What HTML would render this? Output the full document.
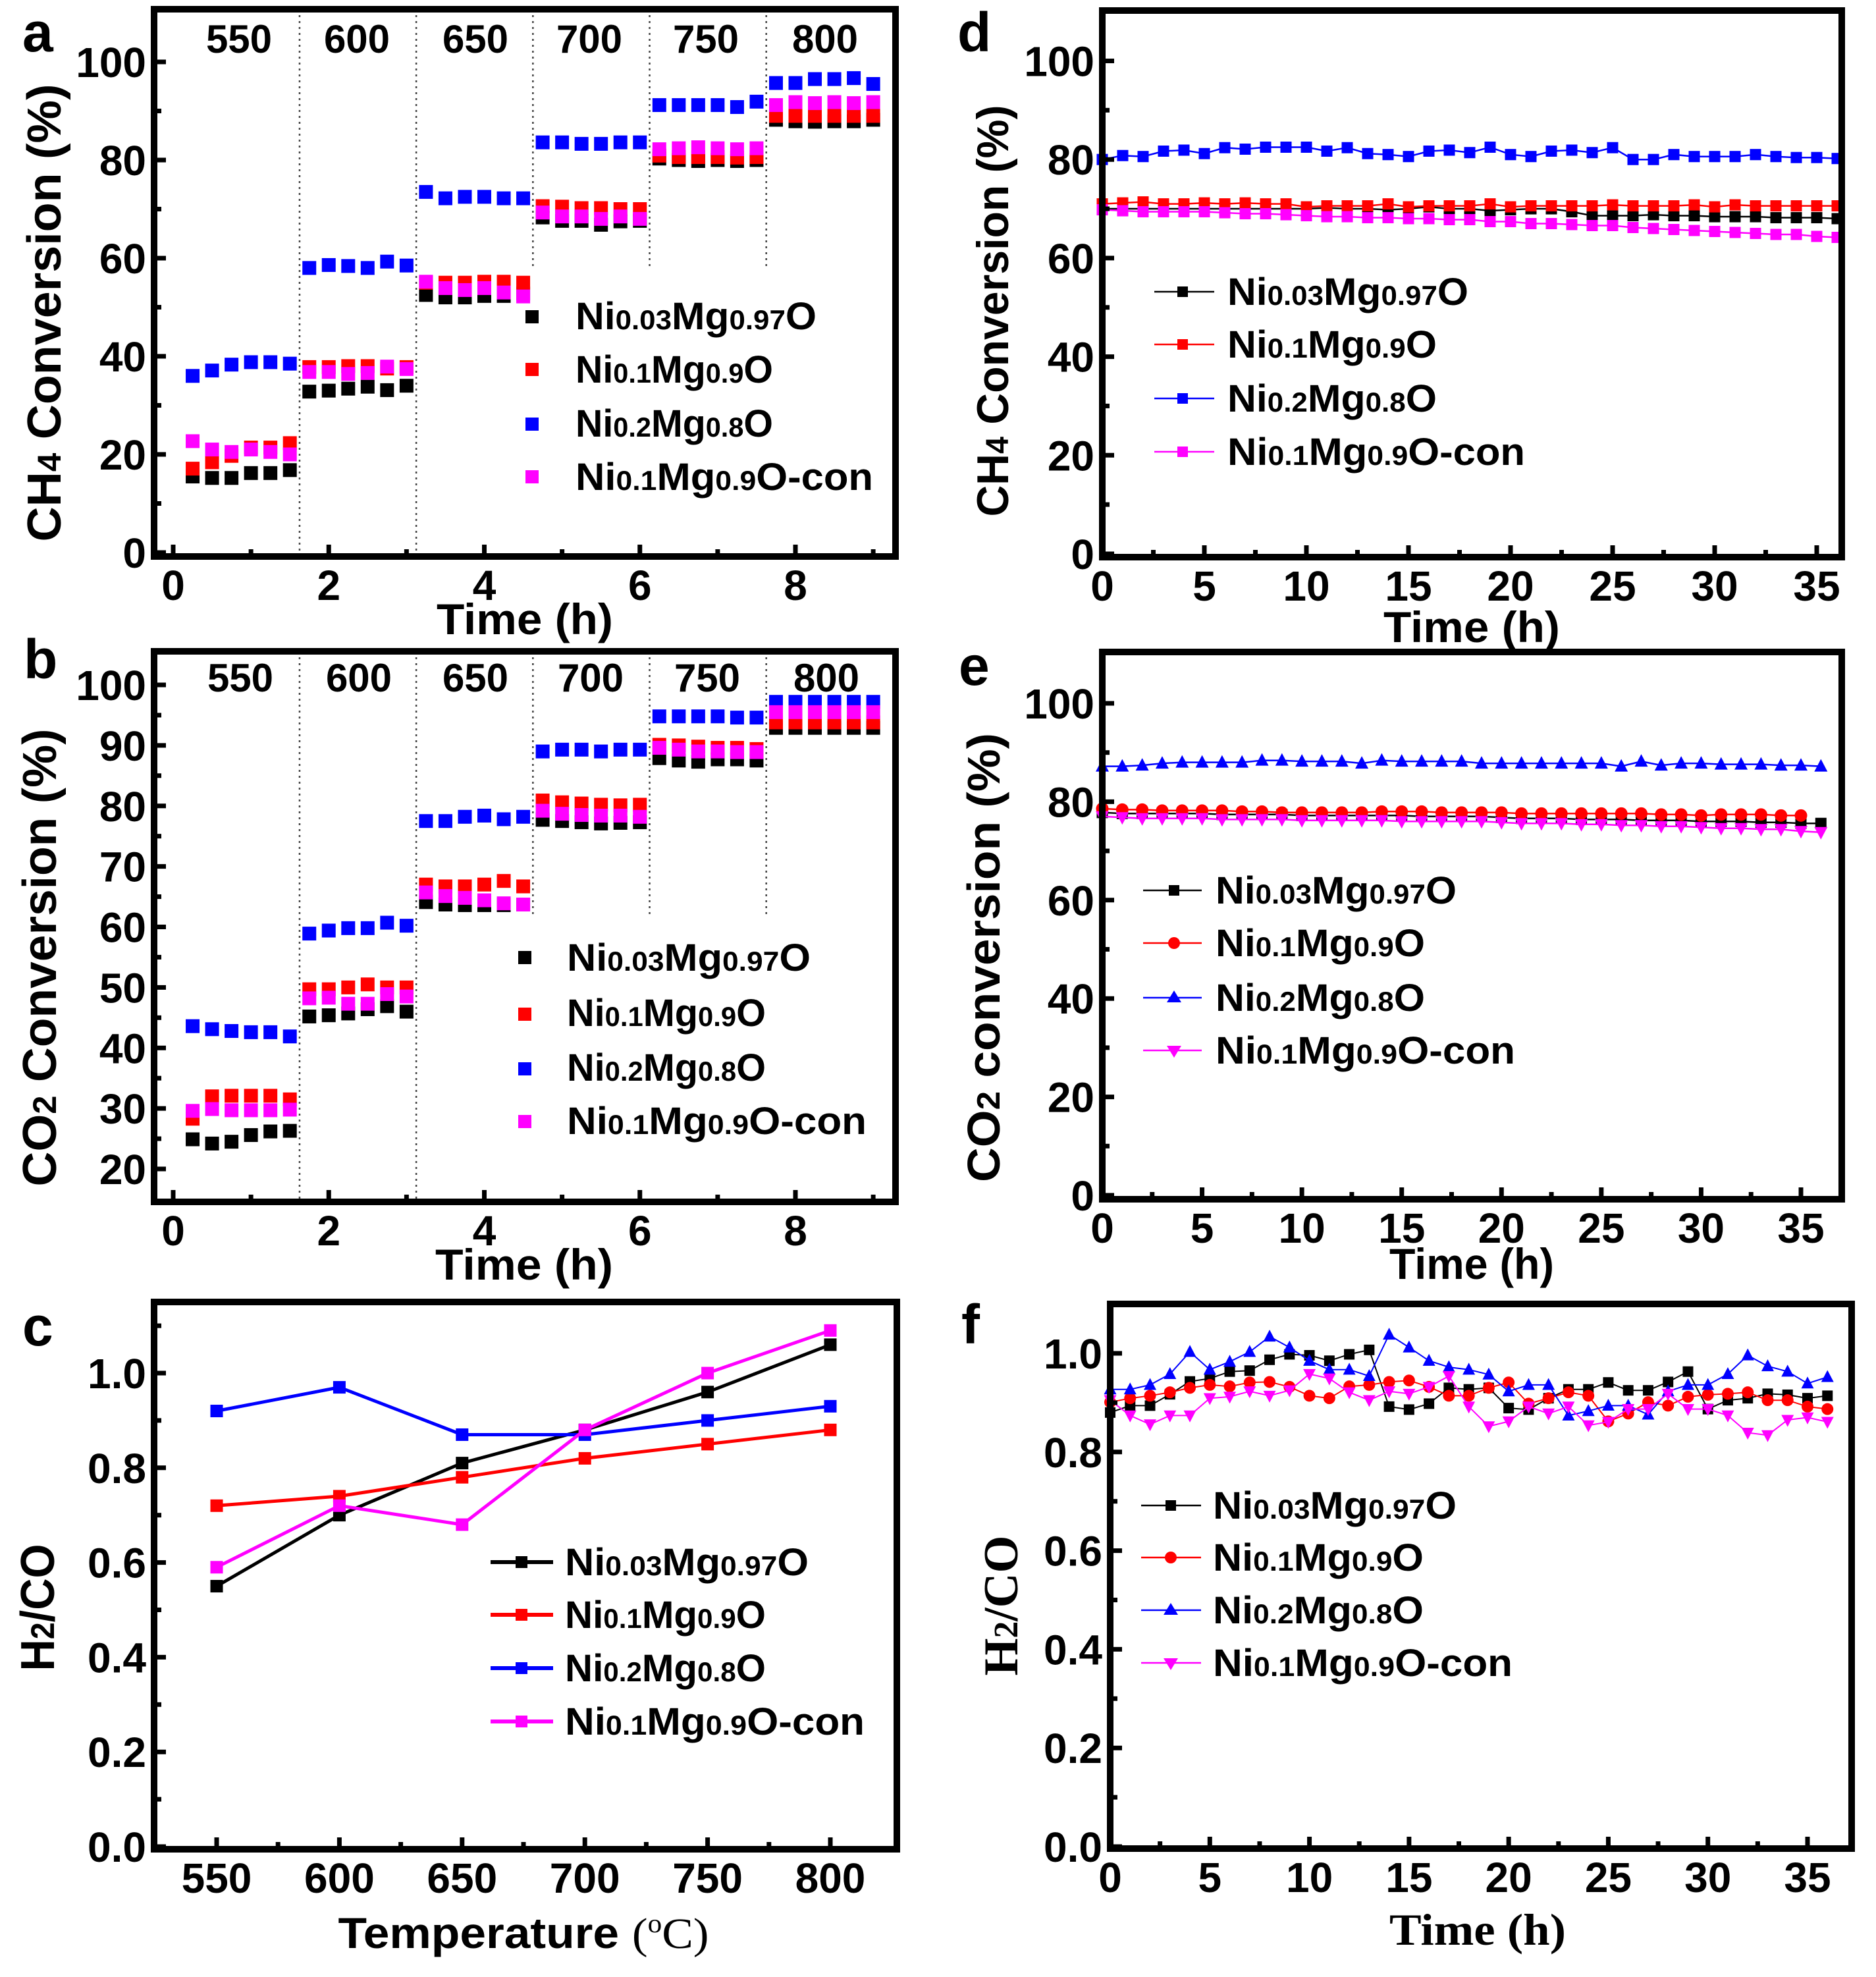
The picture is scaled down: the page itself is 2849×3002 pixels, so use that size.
<!DOCTYPE html>
<html><head><meta charset="utf-8">
<style>
html,body{margin:0;padding:0;background:#fff;}
svg{display:block;}
text{font-family:"Liberation Sans",sans-serif;font-weight:bold;fill:#000;}
.serif{font-family:"Liberation Serif",serif;}
</style></head>
<body>
<svg id="fig" width="2849" height="3002" viewBox="0 0 2849 3002" xmlns="http://www.w3.org/2000/svg">
<rect x="0" y="0" width="2849" height="3002" fill="#fff"/>
<!-- panel letters -->
<text x="34" y="78" font-size="84">a</text>
<text x="36" y="1030" font-size="84">b</text>
<text x="34" y="2043" font-size="84">c</text>
<text x="1454" y="78" font-size="84">d</text>
<text x="1456" y="1040" font-size="84">e</text>
<text x="1460" y="2040" font-size="84">f</text>

<!-- y axis titles -->
<text transform="translate(92,475) rotate(-90)" text-anchor="middle" font-size="72" textLength="695" lengthAdjust="spacingAndGlyphs">CH<tspan font-size="50">4</tspan> Conversion (%)</text>
<text transform="translate(85,1454) rotate(-90)" text-anchor="middle" font-size="72" textLength="695" lengthAdjust="spacingAndGlyphs">CO<tspan font-size="50">2</tspan> Conversion (%)</text>
<text transform="translate(82,2441) rotate(-90)" text-anchor="middle" font-size="72" textLength="193" lengthAdjust="spacingAndGlyphs">H<tspan font-size="50">2</tspan>/CO</text>
<text transform="translate(1531,472) rotate(-90)" text-anchor="middle" font-size="68" textLength="625" lengthAdjust="spacingAndGlyphs">CH<tspan font-size="48">4</tspan> Conversion (%)</text>
<text transform="translate(1518,1454) rotate(-90)" text-anchor="middle" font-size="70" textLength="682" lengthAdjust="spacingAndGlyphs">CO<tspan font-size="49">2</tspan> conversion (%)</text>
<text class="serif" transform="translate(1545,2438) rotate(-90)" text-anchor="middle" font-size="74" textLength="213" lengthAdjust="spacingAndGlyphs">H<tspan font-size="52">2</tspan>/CO</text>

<!-- x axis titles -->
<text x="797" y="963" text-anchor="middle" font-size="66" textLength="268" lengthAdjust="spacingAndGlyphs">Time (h)</text>
<text x="796" y="1943" text-anchor="middle" font-size="66" textLength="270" lengthAdjust="spacingAndGlyphs">Time (h)</text>
<text x="795" y="2958" text-anchor="middle" font-size="66" textLength="563" lengthAdjust="spacingAndGlyphs">Temperature <tspan class="serif" font-weight="normal">(<tspan font-size="40" dy="-24">o</tspan><tspan dy="24">C)</tspan></tspan></text>
<text x="2235" y="975" text-anchor="middle" font-size="66" textLength="268" lengthAdjust="spacingAndGlyphs">Time (h)</text>
<text x="2235" y="1942" text-anchor="middle" font-size="66" textLength="250" lengthAdjust="spacingAndGlyphs">Time (h)</text>
<text class="serif" x="2244" y="2953" text-anchor="middle" font-size="68" textLength="268" lengthAdjust="spacingAndGlyphs">Time (h)</text>

<!-- temperature labels -->
<g font-size="60" text-anchor="middle">
<text x="363" y="80">550</text><text x="542" y="80">600</text><text x="722" y="80">650</text><text x="895" y="80">700</text><text x="1072" y="80">750</text><text x="1253" y="80">800</text>
</g>
<g font-size="60" text-anchor="middle">
<text x="365" y="1050">550</text><text x="545" y="1050">600</text><text x="722" y="1050">650</text><text x="897" y="1050">700</text><text x="1074" y="1050">750</text><text x="1255" y="1050">800</text>
</g>

<!-- legends -->
<g font-size="58">
<rect x="798" y="471" width="20" height="20" fill="#000"/>
<rect x="798" y="551" width="20" height="20" fill="#f00"/>
<rect x="798" y="634" width="20" height="20" fill="#00f"/>
<rect x="798" y="714" width="20" height="20" fill="#f0f"/>
<text x="874" y="500" textLength="366" lengthAdjust="spacingAndGlyphs">Ni<tspan font-size="42">0.03</tspan>Mg<tspan font-size="42">0.97</tspan>O</text>
<text x="874" y="581" textLength="300" lengthAdjust="spacingAndGlyphs">Ni<tspan font-size="42">0.1</tspan>Mg<tspan font-size="42">0.9</tspan>O</text>
<text x="874" y="663" textLength="300" lengthAdjust="spacingAndGlyphs">Ni<tspan font-size="42">0.2</tspan>Mg<tspan font-size="42">0.8</tspan>O</text>
<text x="874" y="744" textLength="452" lengthAdjust="spacingAndGlyphs">Ni<tspan font-size="42">0.1</tspan>Mg<tspan font-size="42">0.9</tspan>O-con</text>
</g>
<g font-size="58">
<rect x="787" y="1444" width="20" height="20" fill="#000"/>
<rect x="787" y="1530" width="20" height="20" fill="#f00"/>
<rect x="787" y="1613" width="20" height="20" fill="#00f"/>
<rect x="787" y="1693" width="20" height="20" fill="#f0f"/>
<text x="861" y="1474" textLength="370" lengthAdjust="spacingAndGlyphs">Ni<tspan font-size="42">0.03</tspan>Mg<tspan font-size="42">0.97</tspan>O</text>
<text x="861" y="1558" textLength="302" lengthAdjust="spacingAndGlyphs">Ni<tspan font-size="42">0.1</tspan>Mg<tspan font-size="42">0.9</tspan>O</text>
<text x="861" y="1641" textLength="302" lengthAdjust="spacingAndGlyphs">Ni<tspan font-size="42">0.2</tspan>Mg<tspan font-size="42">0.8</tspan>O</text>
<text x="861" y="1722" textLength="455" lengthAdjust="spacingAndGlyphs">Ni<tspan font-size="42">0.1</tspan>Mg<tspan font-size="42">0.9</tspan>O-con</text>
</g>
<g font-size="58">
<line x1="745" y1="2372" x2="840" y2="2372" stroke="#000" stroke-width="6"/><rect x="783" y="2363" width="18" height="18" fill="#000"/>
<line x1="745" y1="2452" x2="840" y2="2452" stroke="#f00" stroke-width="6"/><rect x="783" y="2443" width="18" height="18" fill="#f00"/>
<line x1="745" y1="2533" x2="840" y2="2533" stroke="#00f" stroke-width="6"/><rect x="783" y="2524" width="18" height="18" fill="#00f"/>
<line x1="745" y1="2614" x2="840" y2="2614" stroke="#f0f" stroke-width="6"/><rect x="783" y="2605" width="18" height="18" fill="#f0f"/>
<text x="858" y="2392" textLength="370" lengthAdjust="spacingAndGlyphs">Ni<tspan font-size="42">0.03</tspan>Mg<tspan font-size="42">0.97</tspan>O</text>
<text x="858" y="2472" textLength="305" lengthAdjust="spacingAndGlyphs">Ni<tspan font-size="42">0.1</tspan>Mg<tspan font-size="42">0.9</tspan>O</text>
<text x="858" y="2553" textLength="305" lengthAdjust="spacingAndGlyphs">Ni<tspan font-size="42">0.2</tspan>Mg<tspan font-size="42">0.8</tspan>O</text>
<text x="858" y="2634" textLength="455" lengthAdjust="spacingAndGlyphs">Ni<tspan font-size="42">0.1</tspan>Mg<tspan font-size="42">0.9</tspan>O-con</text>
</g>
<g font-size="58">
<line x1="1753" y1="443" x2="1844" y2="443" stroke="#000" stroke-width="2.5"/><rect x="1788" y="435" width="16" height="16" fill="#000"/>
<line x1="1753" y1="523" x2="1844" y2="523" stroke="#f00" stroke-width="2.5"/><rect x="1788" y="515" width="16" height="16" fill="#f00"/>
<line x1="1753" y1="605" x2="1844" y2="605" stroke="#00f" stroke-width="2.5"/><rect x="1788" y="597" width="16" height="16" fill="#00f"/>
<line x1="1753" y1="686" x2="1844" y2="686" stroke="#f0f" stroke-width="2.5"/><rect x="1788" y="678" width="16" height="16" fill="#f0f"/>
<text x="1864" y="463" textLength="366" lengthAdjust="spacingAndGlyphs">Ni<tspan font-size="42">0.03</tspan>Mg<tspan font-size="42">0.97</tspan>O</text>
<text x="1864" y="543" textLength="318" lengthAdjust="spacingAndGlyphs">Ni<tspan font-size="42">0.1</tspan>Mg<tspan font-size="42">0.9</tspan>O</text>
<text x="1864" y="625" textLength="318" lengthAdjust="spacingAndGlyphs">Ni<tspan font-size="42">0.2</tspan>Mg<tspan font-size="42">0.8</tspan>O</text>
<text x="1864" y="706" textLength="452" lengthAdjust="spacingAndGlyphs">Ni<tspan font-size="42">0.1</tspan>Mg<tspan font-size="42">0.9</tspan>O-con</text>
</g>
<g font-size="58">
<line x1="1736" y1="1352" x2="1825" y2="1352" stroke="#000" stroke-width="2.5"/><rect x="1775" y="1344" width="16" height="16" fill="#000"/>
<line x1="1736" y1="1432" x2="1825" y2="1432" stroke="#f00" stroke-width="2.5"/><circle cx="1783" cy="1432" r="9" fill="#f00"/>
<line x1="1736" y1="1515" x2="1825" y2="1515" stroke="#00f" stroke-width="2.5"/><path d="M1783 1504 L1794 1522 L1772 1522 Z" fill="#00f"/>
<line x1="1736" y1="1595" x2="1825" y2="1595" stroke="#f0f" stroke-width="2.5"/><path d="M1783 1606 L1794 1588 L1772 1588 Z" fill="#f0f"/>
<text x="1846" y="1372" textLength="366" lengthAdjust="spacingAndGlyphs">Ni<tspan font-size="42">0.03</tspan>Mg<tspan font-size="42">0.97</tspan>O</text>
<text x="1846" y="1452" textLength="318" lengthAdjust="spacingAndGlyphs">Ni<tspan font-size="42">0.1</tspan>Mg<tspan font-size="42">0.9</tspan>O</text>
<text x="1846" y="1535" textLength="318" lengthAdjust="spacingAndGlyphs">Ni<tspan font-size="42">0.2</tspan>Mg<tspan font-size="42">0.8</tspan>O</text>
<text x="1846" y="1615" textLength="455" lengthAdjust="spacingAndGlyphs">Ni<tspan font-size="42">0.1</tspan>Mg<tspan font-size="42">0.9</tspan>O-con</text>
</g>
<g font-size="58">
<line x1="1733" y1="2286" x2="1824" y2="2286" stroke="#000" stroke-width="2.5"/><rect x="1770" y="2278" width="16" height="16" fill="#000"/>
<line x1="1733" y1="2365" x2="1824" y2="2365" stroke="#f00" stroke-width="2.5"/><circle cx="1778" cy="2365" r="9" fill="#f00"/>
<line x1="1733" y1="2445" x2="1824" y2="2445" stroke="#00f" stroke-width="2.5"/><path d="M1778 2434 L1789 2452 L1767 2452 Z" fill="#00f"/>
<line x1="1733" y1="2525" x2="1824" y2="2525" stroke="#f0f" stroke-width="2.5"/><path d="M1778 2536 L1789 2518 L1767 2518 Z" fill="#f0f"/>
<text x="1842" y="2306" textLength="370" lengthAdjust="spacingAndGlyphs">Ni<tspan font-size="42">0.03</tspan>Mg<tspan font-size="42">0.97</tspan>O</text>
<text x="1842" y="2385" textLength="320" lengthAdjust="spacingAndGlyphs">Ni<tspan font-size="42">0.1</tspan>Mg<tspan font-size="42">0.9</tspan>O</text>
<text x="1842" y="2465" textLength="320" lengthAdjust="spacingAndGlyphs">Ni<tspan font-size="42">0.2</tspan>Mg<tspan font-size="42">0.8</tspan>O</text>
<text x="1842" y="2545" textLength="455" lengthAdjust="spacingAndGlyphs">Ni<tspan font-size="42">0.1</tspan>Mg<tspan font-size="42">0.9</tspan>O-con</text>
</g>
</svg>
<script>
// ---- data ----
const timesAB = [0.25,0.5,0.75,1,1.25,1.5,1.75,2,2.25,2.5,2.75,3,3.25,3.5,3.75,4,4.25,4.5,4.75,5,5.25,5.5,5.75,6,6.25,6.5,6.75,7,7.25,7.5,7.75,8,8.25,8.5,8.75,9];
const segBounds = [1.625,3.125,4.625,6.125,7.625];
const aBlack = [15.5,15.2,15.2,16.2,16.2,16.8, 32.8,33,33.4,33.8,33.1,34, 52.5,52,52,52.3,52.3,52.8, 68.3,67.6,67.6,66.8,67.5,67.6, 80.3,80,79.8,80,79.8,80, 88.2,87.9,87.8,87.9,87.9,88.2];
const aRed = [17.1,18.4,19.7,21.4,21.4,22.3, 37.8,37.8,38,38,37.5,37.8, 55,55,55,55.2,55.2,55, 70.6,70.5,70.2,70.2,70,70, 80.9,80.6,80.6,80.6,80.5,80.6, 89,89,89,89,89,89];
const aBlue = [36,37.1,38.3,38.8,38.8,38.5, 58,58.6,58.4,58,59.3,58.5, 73.5,72.2,72.5,72.5,72.2,72.2, 83.6,83.6,83.3,83.3,83.6,83.6, 91.2,91.2,91.2,91.2,90.8,91.9, 95.7,95.7,96.5,96.5,96.7,95.5];
const aMag = [22.7,21,20.5,21,20.5,20, 36.8,36.8,36.4,36.6,37.9,37.4, 55.2,53.9,53.5,53.9,53,52.2, 69.3,68.5,68.5,68,68.5,68, 82.2,82.4,82.6,82.4,82.2,82.4, 91.2,91.8,91.6,91.8,91.6,91.8];
const bBlack = [24.9,24.2,24.5,25.6,26.2,26.3, 45.2,45.4,45.7,46.4,46.9,46, 64.1,63.7,63.6,63.6,63.6,63.7, 77.7,77.5,77.3,77.1,77.2,77.3, 87.9,87.5,87.3,87.7,87.7,87.5, 92.9,92.9,92.9,92.9,92.9,92.9];
const bRed = [28.3,32,32.1,32.1,32.1,31.5, 49.7,49.7,50,50.5,50,50, 67,66.7,66.7,67,67.6,66.7, 80.9,80.6,80.4,80.2,80.1,80.2, 90.1,90,89.8,89.6,89.6,89.4, 93.8,93.8,93.8,93.8,93.8,93.8];
const bBlue = [43.6,43.1,42.8,42.6,42.6,41.9, 58.9,59.4,59.8,59.8,60.7,60.2, 77.5,77.5,78.2,78.4,77.8,78.2, 89,89.3,89.3,89,89.3,89.3, 94.8,94.8,94.8,94.8,94.6,94.6, 97.2,97.2,97.2,97.2,97.2,97.2];
const bMag = [29.6,29.9,29.7,29.7,29.7,29.8, 48.2,48.3,47.3,47.3,48.9,48.5, 65.7,65.1,64.8,64.4,63.9,63.7, 79.2,78.7,78.5,78.4,78.4,78.2, 89.6,89.3,89,89,88.9,88.9, 95.5,95.5,95.5,95.5,95.5,95.5];
const temps = [550,600,650,700,750,800];
const cBlack = [0.55,0.70,0.81,0.88,0.96,1.06];
const cRed = [0.72,0.74,0.78,0.82,0.85,0.88];
const cBlue = [0.92,0.97,0.87,0.87,0.90,0.93];
const cMag = [0.59,0.72,0.68,0.88,1.00,1.09];
const timesD = [0,1,2,3,4,5,6,7,8,9,10,11,12,13,14,15,16,17,18,19,20,21,22,23,24,25,26,27,28,29,30,31,32,33,34,35,36];
const dBlack = [70,70,70,70,70,70,70,70,70,70,70,70.2,70,70,69.8,70,70.4,70,70,69.6,69.8,70,70,69.4,68.6,68.6,68.6,68.8,68.6,68.6,68.4,68.4,68.4,68.2,68.2,68.2,68];
const dRed = [71,71.2,71.4,71,71,71.2,71,71.2,71,71,70.4,70.6,70.6,70.6,71,70.4,70.6,70.6,70.6,71,70.4,70.6,70.6,70.6,70.6,70.8,70.6,70.6,70.6,70.8,70.4,70.8,70.6,70.6,70.6,70.6,70.6];
const dBlue = [80,80.8,80.6,81.7,81.9,81.2,82.4,82.1,82.5,82.5,82.5,81.7,82.4,81.2,81,80.6,81.7,81.9,81.4,82.5,81,80.6,81.7,81.9,81.4,82.4,80,80,81,80.6,80.6,80.6,81,80.6,80.4,80.4,80.2];
const dMag = [69.8,69.6,69.4,69.4,69.4,69.4,69.2,69,69,68.8,68.6,68.4,68.4,68.2,68.2,68,68,67.8,67.8,67.4,67.4,67,67,66.8,66.6,66.6,66.2,66,65.8,65.6,65.4,65.2,65,64.8,64.8,64.4,64.2];
const eBlack = [77.8,77.6,77.6,77.6,77.6,77.6,77.4,77.4,77.4,77.4,77.2,77.2,77.2,77.2,77.2,77.2,77,77,77,77,76.8,76.6,76.6,76.6,76.4,76.4,76.4,76.2,76.2,76.2,76,76,76,75.8,75.8,75.6,75.6];
const eRed = [78.6,78.4,78.4,78.2,78.2,78.2,78.2,78,78,77.8,77.8,77.8,77.8,77.8,78,78,78,77.8,77.8,77.8,77.8,77.6,77.6,77.6,77.6,77.6,77.6,77.6,77.4,77.4,77.2,77.4,77.4,77.4,77.2,77.2];
const eBlue = [87.2,87.2,87.4,87.8,88,88,88,88,88.4,88.4,88.2,88.2,88.2,87.8,88.4,88.2,88.2,88.2,88.2,87.8,87.8,87.8,87.8,87.8,87.8,87.8,87.2,88.2,87.4,87.8,87.8,87.6,87.6,87.6,87.4,87.4,87.2];
const eMag = [77,76.8,76.6,76.6,76.6,76.6,76.4,76.4,76.4,76.4,76.2,76.2,76.2,76.2,76.2,76,76,76,76,76,75.8,75.6,75.6,75.6,75.4,75.4,75.2,75.2,75,75,74.8,74.6,74.6,74.4,74.4,74,73.8];
const fBlack = [0.88,0.894,0.894,0.917,0.943,0.949,0.963,0.965,0.987,0.998,0.996,0.985,0.998,1.007,0.892,0.886,0.898,0.930,0.927,0.930,0.889,0.886,0.909,0.927,0.927,0.941,0.925,0.925,0.942,0.963,0.887,0.905,0.909,0.918,0.916,0.909,0.914];
const fRed = [0.901,0.909,0.914,0.921,0.930,0.936,0.933,0.941,0.942,0.932,0.914,0.909,0.933,0.936,0.942,0.945,0.932,0.914,0.914,0.930,0.941,0.898,0.909,0.921,0.914,0.862,0.878,0.901,0.894,0.912,0.916,0.918,0.921,0.905,0.905,0.892,0.887];
const fBlue = [0.927,0.927,0.936,0.958,1.003,0.967,0.983,1.003,1.034,1.012,0.985,0.967,0.967,0.954,1.038,1.012,0.985,0.972,0.967,0.957,0.923,0.936,0.936,0.874,0.883,0.894,0.894,0.876,0.923,0.936,0.936,0.958,0.996,0.974,0.963,0.939,0.952];
const fMag = [0.905,0.874,0.856,0.874,0.874,0.909,0.912,0.923,0.914,0.925,0.958,0.949,0.921,0.905,0.923,0.918,0.932,0.954,0.892,0.852,0.862,0.892,0.878,0.892,0.854,0.861,0.887,0.887,0.918,0.887,0.887,0.874,0.839,0.834,0.865,0.870,0.861];
const ticksAB_x = [0,2,4,6,8];
const ticksA_y = [0,20,40,60,80,100];
const ticksB_y = [20,30,40,50,60,70,80,90,100];
const ticksC_y = [0.0,0.2,0.4,0.6,0.8,1.0];
const ticksDEF_x = [0,5,10,15,20,25,30,35];
const tickLabelsC_y = ['0.0','0.2','0.4','0.6','0.8','1.0'];

// ---- helpers ----
const NS = 'http://www.w3.org/2000/svg';
const svg = document.getElementById('fig');
function mk(tag, attrs, parent){ const e=document.createElementNS(NS,tag); for(const k in attrs) e.setAttribute(k,attrs[k]); (parent||svg).appendChild(e); return e; }
function lin(v0,p0,v1,p1){ const s=(p1-p0)/(v1-v0); return v=>p0+(v-v0)*s; }

const panels = {
 a:{l:234,t:14,r:1360,b:845, sx:lin(0,263,8,1208), sy:lin(0,839,100,94)},
 b:{l:234,t:989,r:1360,b:1825, sx:lin(0,263,8,1208), sy:lin(20,1775,100,1040)},
 c:{l:234,t:1977,r:1362,b:2808, sx:lin(550,329,800,1261), sy:lin(0,2804,1,2085)},
 d:{l:1674,t:16,r:2797,b:846, sx:lin(0,1674,35,2759), sy:lin(0,841,100,92.5)},
 e:{l:1674,t:990,r:2797,b:1821, sx:lin(0,1674,35,2735), sy:lin(0,1815,100,1068)},
 f:{l:1686,t:1980,r:2812,b:2807, sx:lin(0,1686,35,2745), sy:lin(0,2804,1,2055)}
};

function axes(key, xt, xMinor, yt, yMinor, yLabels, xLabels){
  const p = panels[key];
  const g = mk('g',{});
  
  
  xt.forEach((v,i)=>{
    const tk = mk('line',{x1:p.sx(v),x2:p.sx(v),y1:p.b,y2:p.b-18,stroke:'#000','stroke-width':7},g);
    
    
    const lb = mk('text',{x:p.sx(v),y:p.b+66,'text-anchor':'middle','font-size':64},g);
    
    
    lb.textContent = xLabels ? xLabels[i] : String(v);
  });
  xMinor.forEach(v=>{
    const tk = mk('line',{x1:p.sx(v),x2:p.sx(v),y1:p.b,y2:p.b-11,stroke:'#000','stroke-width':7},g);
    
    
  });
  yt.forEach((v,i)=>{
    const tk = mk('line',{x1:p.l,x2:p.l+18,y1:p.sy(v),y2:p.sy(v),stroke:'#000','stroke-width':7},g);
    
    
    const lb = mk('text',{x:p.l-12,y:p.sy(v)+23,'text-anchor':'end','font-size':64},g);
    
    
    lb.textContent = yLabels ? yLabels[i] : String(v);
  });
  yMinor.forEach(v=>{
    const tk = mk('line',{x1:p.l,x2:p.l+11,y1:p.sy(v),y2:p.sy(v),stroke:'#000','stroke-width':7},g);
    
    
  });
  const fr = mk('rect',{x:p.l,y:p.t,width:p.r-p.l,height:p.b-p.t,fill:'none',stroke:'#000','stroke-width':10},g);
  
  
}

function marker(g, shape, x, y, size, color){
  let e;
  const h=size/2;
  if(shape==='sq') e = mk('rect',{x:x-h,y:y-h,width:size,height:size,fill:color},g);
  else if(shape==='ci') e = mk('circle',{cx:x,cy:y,r:h,fill:color},g);
  else if(shape==='up') e = mk('path',{d:`M${x} ${y-h*1.1} L${x+h} ${y+h*0.8} L${x-h} ${y+h*0.8} Z`,fill:color},g);
  else e = mk('path',{d:`M${x} ${y+h*1.1} L${x+h} ${y-h*0.8} L${x-h} ${y-h*0.8} Z`,fill:color},g);
  
  
}

function series(key, name, xs, ys, color, shape, size, lineW){
  const p = panels[key];
  const g = mk('g',{});
  
  
  const n = Math.min(xs.length, ys.length);
  if(lineW>0){
    let d='';
    for(let i=0;i<n;i++) d += (i?'L':'M')+p.sx(xs[i]).toFixed(1)+' '+p.sy(ys[i]).toFixed(1);
    const ln = mk('path',{d:d,fill:'none',stroke:color,'stroke-width':lineW},g);
    
    
  }
  for(let i=0;i<n;i++) marker(g, shape, p.sx(xs[i]), p.sy(ys[i]), size, color);
}

function dividers(key, lowVal){
  const p = panels[key];
  segBounds.forEach((v,i)=>{
    const yEnd = i<2 ? p.b : p.sy(lowVal);
    const dl = mk('line',{x1:p.sx(v),x2:p.sx(v),y1:p.t,y2:yEnd,stroke:'#444','stroke-width':2.5,'stroke-dasharray':'3 6'});
    
    
  });
}

// panel a
dividers('a', 58);
series('a','ni003',timesAB,aBlack,'#000','sq',21,0);
series('a','ni01',timesAB,aRed,'#f00','sq',21,0);
series('a','ni02',timesAB,aBlue,'#00f','sq',21,0);
series('a','ni01con',timesAB,aMag,'#f0f','sq',21,0);
axes('a',ticksAB_x,[1,3,5,7,9],ticksA_y,[10,30,50,70,90]);
// panel b
dividers('b', 62);
series('b','ni003',timesAB,bBlack,'#000','sq',21,0);
series('b','ni01',timesAB,bRed,'#f00','sq',21,0);
series('b','ni02',timesAB,bBlue,'#00f','sq',21,0);
series('b','ni01con',timesAB,bMag,'#f0f','sq',21,0);
axes('b',ticksAB_x,[1,3,5,7,9],ticksB_y,[25,35,45,55,65,75,85,95]);
// panel c
series('c','ni003',temps,cBlack,'#000','sq',19,5);
series('c','ni01',temps,cRed,'#f00','sq',19,5);
series('c','ni02',temps,cBlue,'#00f','sq',19,5);
series('c','ni01con',temps,cMag,'#f0f','sq',19,5);
axes('c',temps,[575,625,675,725,775],ticksC_y,[0.1,0.3,0.5,0.7,0.9,1.1],tickLabelsC_y);
// panel d
series('d','ni003',timesD,dBlack,'#000','sq',17,2.5);
series('d','ni01',timesD,dRed,'#f00','sq',17,2.5);
series('d','ni02',timesD,dBlue,'#00f','sq',17,2.5);
series('d','ni01con',timesD,dMag,'#f0f','sq',17,2.5);
axes('d',ticksDEF_x,[2.5,7.5,12.5,17.5,22.5,27.5,32.5],ticksA_y,[10,30,50,70,90]);
// panel e
series('e','ni003',timesD,eBlack,'#000','sq',17,2.5);
series('e','ni01',timesD,eRed,'#f00','ci',19,2.5);
series('e','ni02',timesD,eBlue,'#00f','up',20,2.5);
series('e','ni01con',timesD,eMag,'#f0f','dn',20,2.5);
axes('e',ticksDEF_x,[2.5,7.5,12.5,17.5,22.5,27.5,32.5],ticksA_y,[10,30,50,70,90]);
// panel f
series('f','ni003',timesD,fBlack,'#000','sq',16,2);
series('f','ni01',timesD,fRed,'#f00','ci',18,2);
series('f','ni02',timesD,fBlue,'#00f','up',19,2);
series('f','ni01con',timesD,fMag,'#f0f','dn',19,2);
axes('f',ticksDEF_x,[2.5,7.5,12.5,17.5,22.5,27.5,32.5],ticksC_y,[0.1,0.3,0.5,0.7,0.9],tickLabelsC_y);
</script>
</body></html>
